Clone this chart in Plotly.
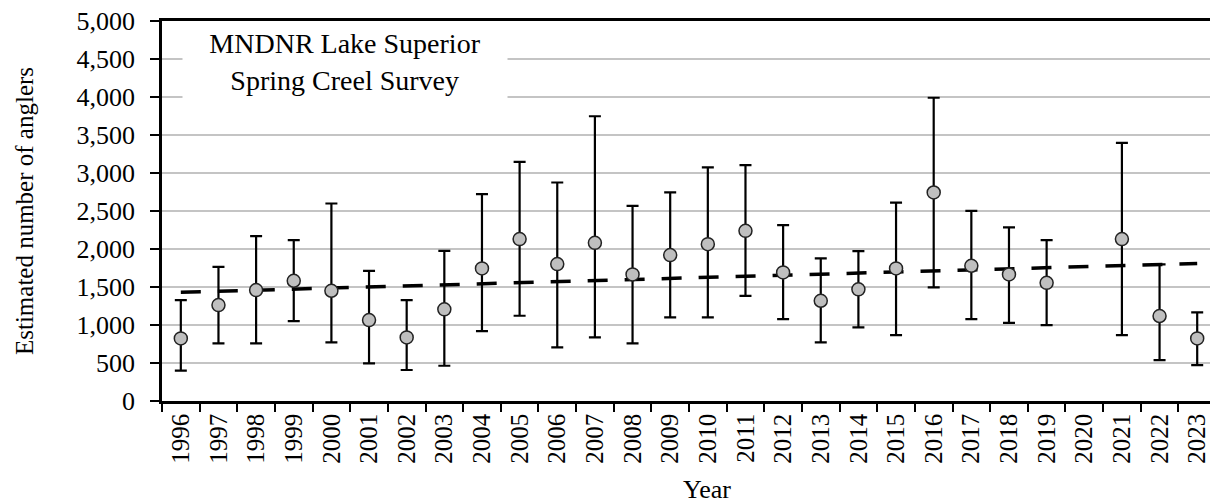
import plotly.graph_objects as go

years = [str(y) for y in range(1996, 2024)]
estimate = [824, 1262, 1459, 1582, 1450, 1065, 837, 1206, 1745, 2130,
            1801, 2081, 1666, 1920, 2064, 2239, 1692, 1319, 1469, 1745,
            2744, 1779, 1666, 1555, None, 2130, 1118, 824]
upper = [1328, 1766, 2169, 2117, 2599, 1713, 1328, 1976, 2722, 3146,
         2875, 3747, 2568, 2744, 3073, 3103, 2314, 1876, 1972, 2610,
         3990, 2502, 2284, 2117, None, 3396, 1797, 1166]
lower = [399, 759, 759, 1052, 772, 495, 408, 464, 920, 1122,
         706, 837, 759, 1100, 1100, 1384, 1078, 772, 969, 868,
         1495, 1078, 1029, 999, None, 868, 539, 473]
trend_years = ["1996", "2023"]
trend_values = [1430, 1810]

err_plus = [None if e is None else u - e for e, u in zip(estimate, upper)]
err_minus = [None if e is None else e - l for e, l in zip(estimate, lower)]

FONT = "Liberation Serif, Times New Roman, serif"

fig = go.Figure()
fig.add_trace(go.Scatter(
    x=trend_years, y=trend_values, mode="lines",
    line=dict(color="black", width=3.5, dash="20px,17px"),
    hoverinfo="skip", showlegend=False,
))
fig.add_trace(go.Scatter(
    x=years, y=estimate, mode="markers",
    marker=dict(symbol="circle", size=13, color="#bfbfbf",
                line=dict(color="#222222", width=1.5)),
    error_y=dict(type="data", symmetric=False, array=err_plus,
                 arrayminus=err_minus, color="black", thickness=2.2, width=6),
    showlegend=False,
))

fig.update_layout(
    width=1210, height=503,
    margin=dict(l=162, r=0, t=21, b=102),
    plot_bgcolor="white", paper_bgcolor="white",
    font=dict(family=FONT, color="black", size=25),
    showlegend=False,
)
fig.update_xaxes(
    type="category", categoryorder="array", categoryarray=years,
    range=[-0.5, 27.34], tickson="boundaries",
    showgrid=False, showline=True, linecolor="black", linewidth=2.5,
    mirror=True, ticks="outside", ticklen=8, tickwidth=2, tickcolor="black",
    tickangle=-90, tickfont=dict(family=FONT, size=25, color="black"),
    zeroline=False,
)
fig.update_yaxes(
    range=[0, 5000], dtick=500, tickformat=",",
    showgrid=True, gridcolor="#c4c4c4", gridwidth=2,
    showline=True, linecolor="black", linewidth=2.5,
    ticks="outside", ticklen=9, tickwidth=2, tickcolor="black",
    ticklabelstandoff=10,
    tickfont=dict(family=FONT, size=26, color="black"),
    title=dict(text="Estimated number of anglers",
               font=dict(family=FONT, size=25, color="black"), standoff=36),
    zeroline=False,
)

fig.add_annotation(
    x=(345 - 162) / 1048, xref="paper", y=4457, yref="y",
    xanchor="center", yanchor="middle",
    text="MNDNR Lake Superior<br>Spring Creel Survey",
    showarrow=False, bgcolor="white", width=322, height=70,
    font=dict(family=FONT, size=28, color="black"),
)
fig.add_annotation(
    x=0.52, xref="paper", y=-0.234, yref="paper",
    xanchor="center", yanchor="middle",
    text="Year", showarrow=False,
    font=dict(family=FONT, size=26, color="black"),
)

fig.write_html("out.html",
               config={"displayModeBar": False},
               post_script="document.body.style.margin='0';document.body.style.overflow='hidden';")
